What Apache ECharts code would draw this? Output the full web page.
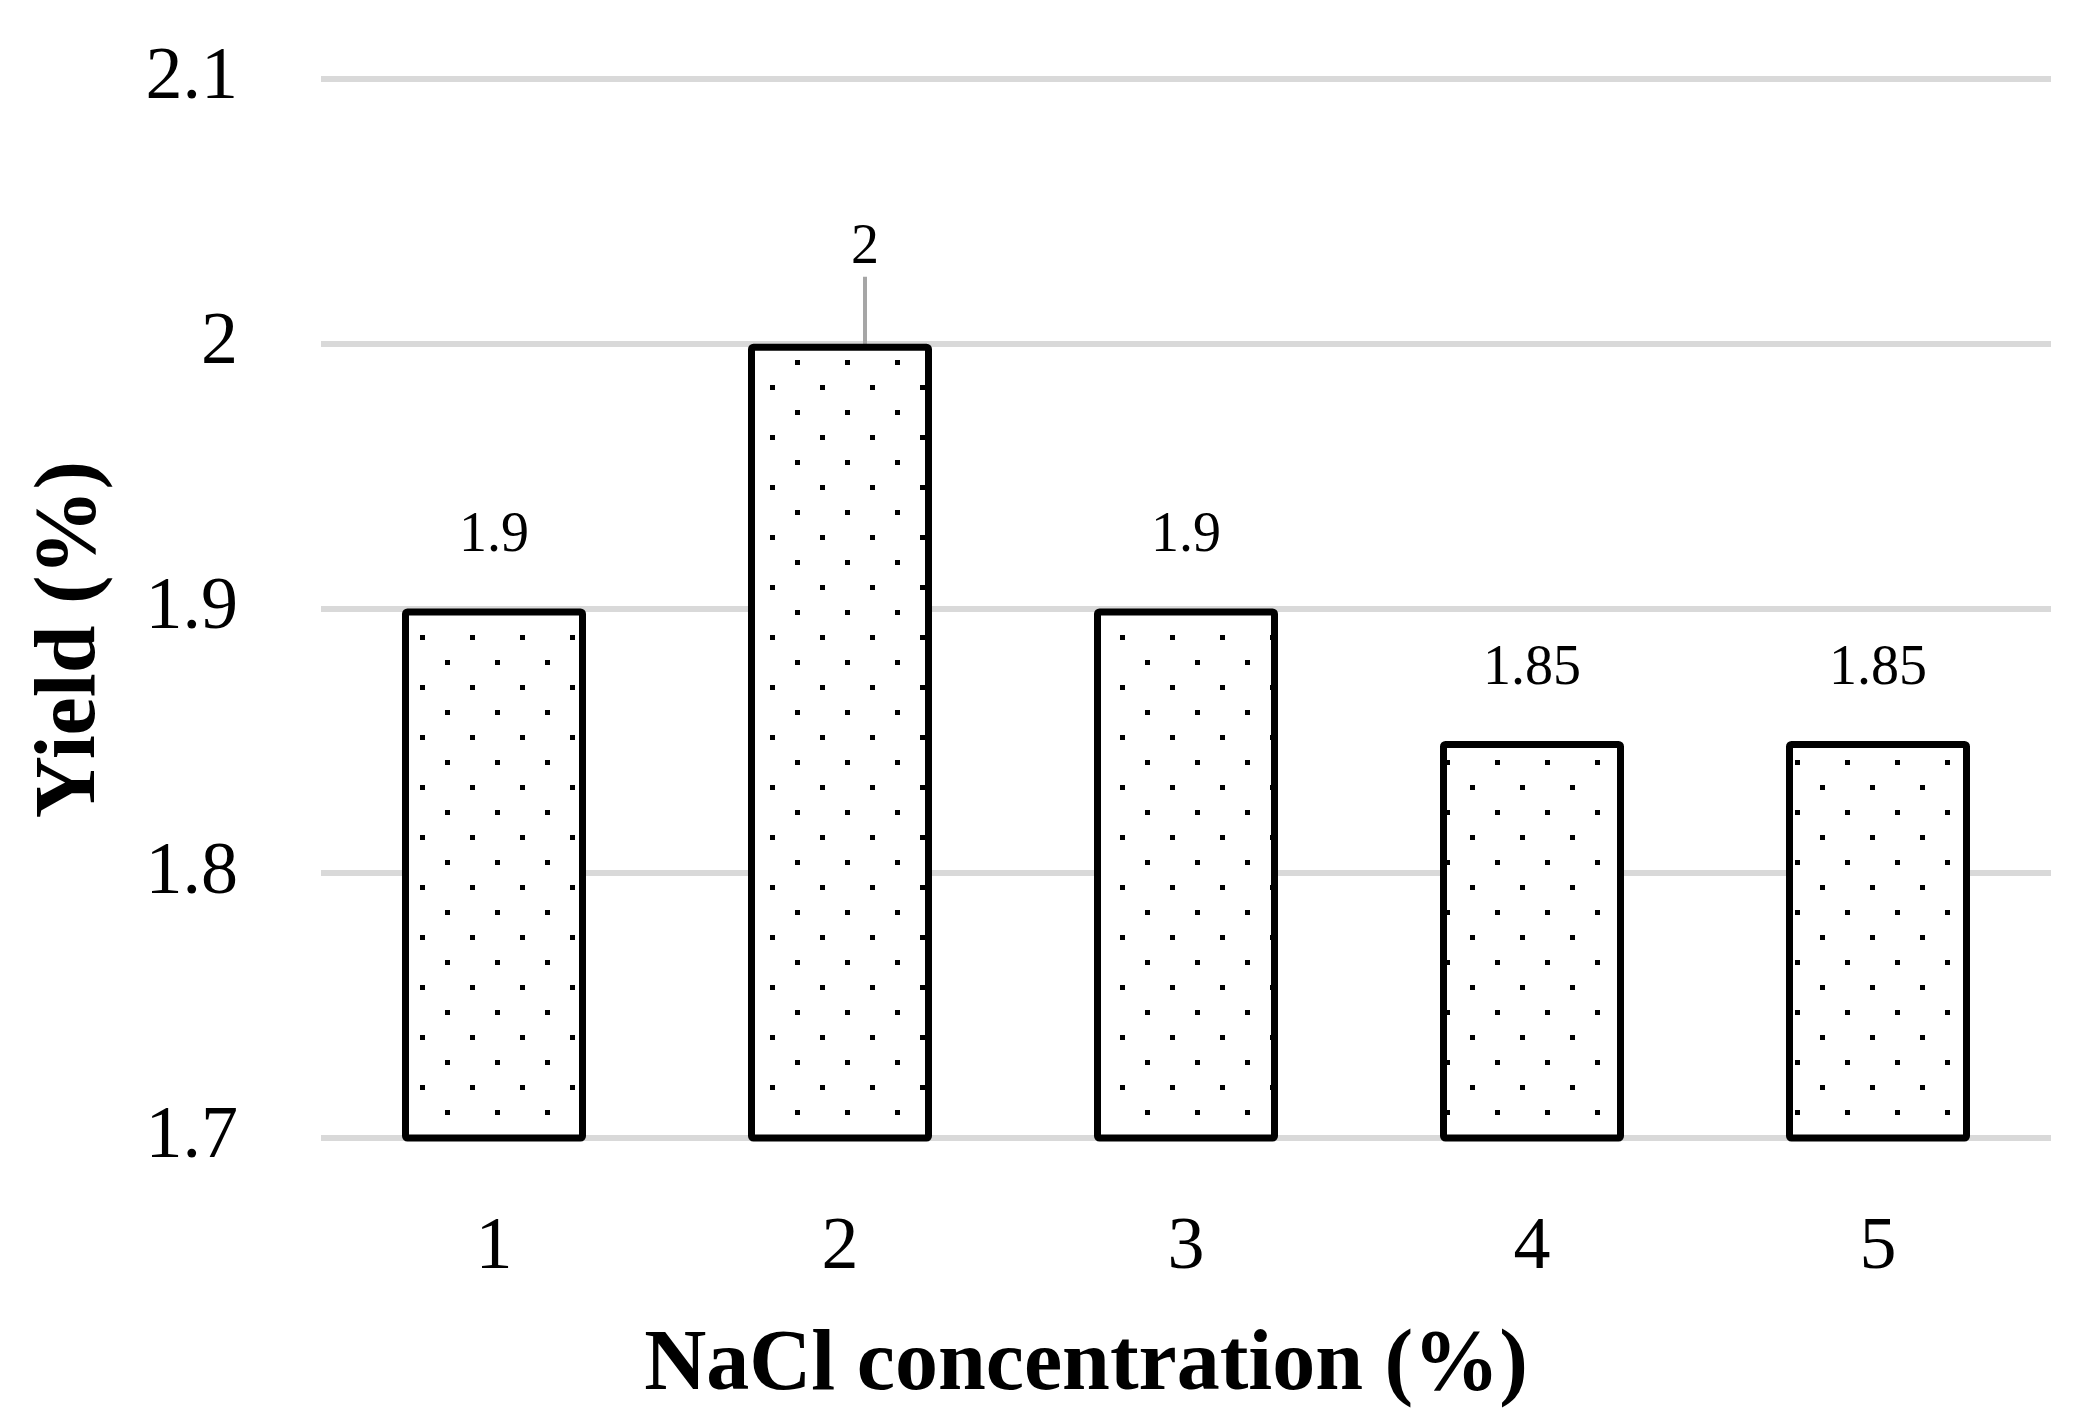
<!DOCTYPE html>
<html>
<head>
<meta charset="utf-8">
<script src="https://cdn.jsdelivr.net/npm/echarts@6/dist/echarts.min.js"></script>
<style>
html,body{margin:0;padding:0;background:#fff;}
#chart{width:2095px;height:1419px;}
</style>
</head>
<body>
<div id="chart"></div>
<script>
const categories = ['1', '2', '3', '4', '5'];
const yieldValues = [1.9, 2.0, 1.9, 1.85, 1.85];
const yLabels = ['1.7', '1.8', '1.9', '2', '2.1'];
const xTitle = 'NaCl concentration (%)';
const yTitle = 'Yield (%)';
const calloutIndex = 1; // label moved out with a leader line

// dotted pattern fill
const tile = document.createElement('canvas');
tile.width = 50; tile.height = 50;
const tctx = tile.getContext('2d');
tctx.fillStyle = '#fff';
tctx.fillRect(0, 0, 50, 50);
tctx.fillStyle = '#000';
tctx.fillRect(45, 10, 5, 5);
tctx.fillRect(20, 35, 5, 5);

const FONT = '"Liberation Serif", "Times New Roman", serif';

const barData = yieldValues.map(function (v, i) {
  return i === calloutIndex
    ? { value: v, labelLine: { show: true, lineStyle: { color: '#a6a6a6', width: 4 } } }
    : { value: v };
});

const chart = echarts.init(document.getElementById('chart'));
chart.setOption({
  animation: false,
  backgroundColor: '#fff',
  grid: { left: 321, right: 44, top: 79, bottom: 281, containLabel: false },
  xAxis: {
    type: 'category',
    data: categories,
    name: xTitle,
    nameLocation: 'middle',
    nameGap: 186,
    nameTextStyle: { fontFamily: FONT, fontSize: 86, fontWeight: 'bold', color: '#000', padding: [0, 200, 0, 0] },
    axisLine: { show: false },
    axisTick: { show: false },
    axisLabel: { fontFamily: FONT, fontSize: 74, color: '#000', margin: 74 }
  },
  yAxis: {
    type: 'value',
    min: 1.7,
    max: 2.1,
    interval: 0.1,
    name: yTitle,
    nameLocation: 'middle',
    nameGap: 206,
    nameTextStyle: { fontFamily: FONT, fontSize: 86, fontWeight: 'bold', color: '#000', padding: [0, 62, 0, 0] },
    axisLine: { show: false },
    axisTick: { show: false },
    axisLabel: {
      fontFamily: FONT, fontSize: 74, color: '#000', margin: 83,
      formatter: function (v) {
        const s = String(Math.round(v * 10) / 10);
        return yLabels.indexOf(s) >= 0 ? s : s;
      }
    },
    splitLine: { lineStyle: { color: '#d9d9d9', width: 6 } }
  },
  series: [{
    type: 'bar',
    data: barData,
    barWidth: 184,
    itemStyle: {
      color: { image: tile, repeat: 'repeat' },
      borderColor: '#000',
      borderWidth: 7,
      borderRadius: 2
    },
    label: {
      show: true,
      position: 'top',
      distance: 44,
      fontFamily: FONT,
      fontSize: 56,
      color: '#000',
      formatter: function (p) { return String(p.value); }
    },
    labelLine: { show: false },
    labelLayout: function (params) {
      if (params.dataIndex === calloutIndex) {
        return { dx: 25, dy: -23 };
      }
      return {};
    },
    emphasis: { disabled: true }
  }]
});
</script>
</body>
</html>
